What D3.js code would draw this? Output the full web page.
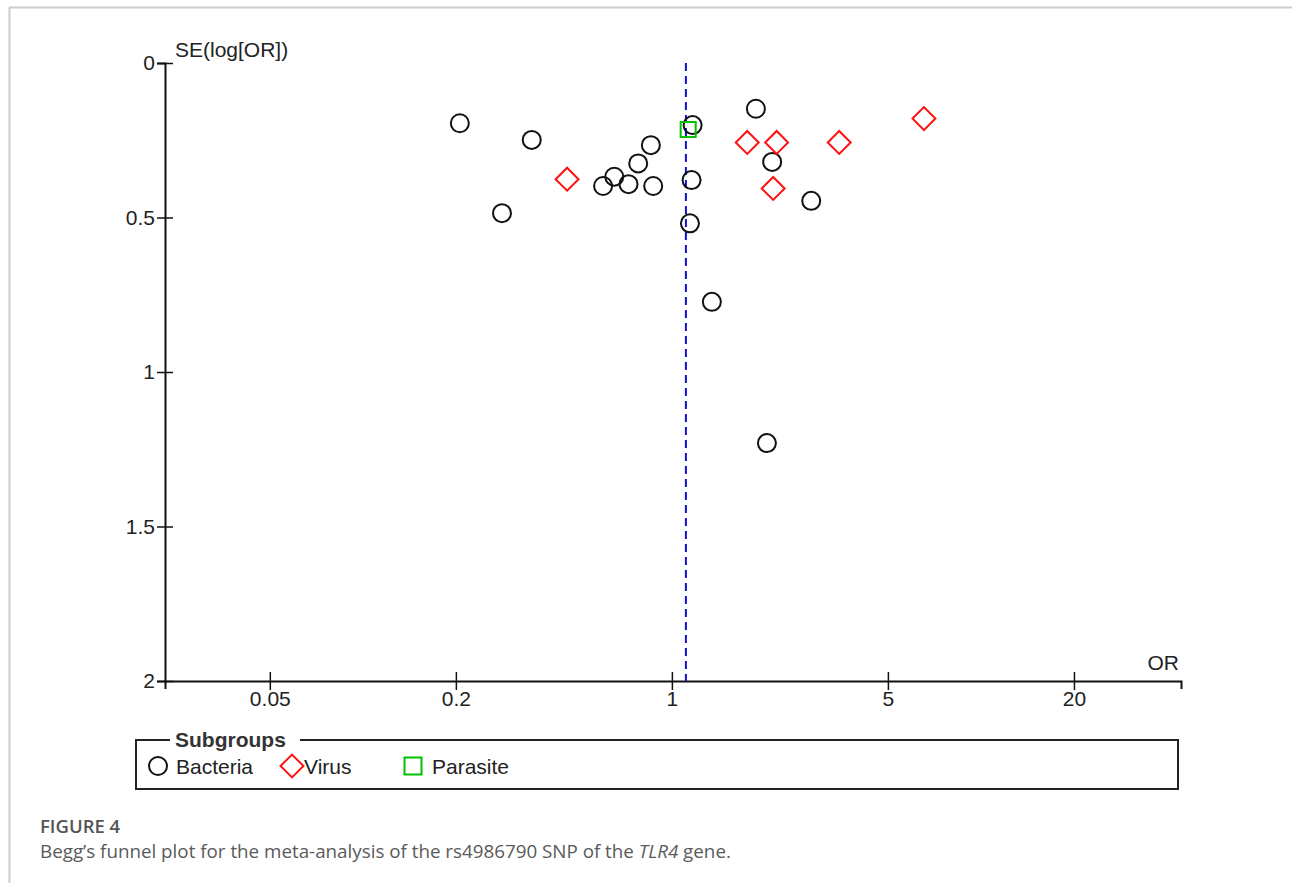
<!DOCTYPE html>
<html>
<head>
<meta charset="utf-8">
<script src="https://cdn.jsdelivr.net/npm/d3@7"></script>
<style>
    body { margin: 0; background: #fff; }
    svg text { font-family: "Liberation Sans", Arial, sans-serif; }
</style>
</head>
<body>
<div id="funnel_plot"></div>
<script>
// Study estimates: odds ratio and SE(log[OR])
const bacteriaOR = [0.206, 0.352, 0.282, 0.599, 0.651, 0.724, 0.778, 0.855, 0.870,
    1.167, 1.158, 1.144, 1.347, 1.870, 2.111, 2.824, 2.030];
const bacteriaSE = [0.195, 0.249, 0.486, 0.398, 0.368, 0.392, 0.325, 0.266, 0.398,
    0.201, 0.379, 0.519, 0.773, 0.148, 0.320, 0.446, 1.230];
const virusOR = [0.458, 1.753, 2.182, 3.479, 6.540, 2.127];
const virusSE = [0.376, 0.257, 0.257, 0.257, 0.180, 0.406];
const parasiteOR = [1.129];
const parasiteSE = [0.215];
const pooledOR = 1.11;

const xTicks = [0.05, 0.2, 1, 5, 20];
const yTicks = [0, 0.5, 1, 1.5, 2];
const subgroups = ["Bacteria", "Virus", "Parasite"];

const graphDimensions = {
    width: 1292,
    height: 883,
    plot: { left: 165, right: 1181, top: 63, bottom: 681 },
};
const { width, height, plot } = graphDimensions;

const svg = d3
    .select("#funnel_plot")
    .append("svg")
    .attr("width", width)
    .attr("height", height);

// page frame
svg.append("line").attr("x1", 9).attr("x2", width).attr("y1", 7.5).attr("y2", 7.5)
    .attr("stroke", "#cccccc").attr("stroke-width", 2);
svg.append("line").attr("x1", 9.5).attr("x2", 9.5).attr("y1", 7).attr("y2", height)
    .attr("stroke", "#cccccc").attr("stroke-width", 2);

const xScale = d3.scaleLog().domain([0.0229, 44.4]).range([plot.left, plot.right]);
const yScale = d3.scaleLinear().domain([0, 2]).range([plot.top, plot.bottom]);

drawAxes(svg, xScale, yScale);

// pooled estimate
svg.append("line")
    .attr("x1", xScale(pooledOR)).attr("x2", xScale(pooledOR))
    .attr("y1", yScale(0)).attr("y2", yScale(2))
    .attr("stroke", "#1010d0")
    .attr("stroke-width", 2)
    .attr("stroke-dasharray", "8,5");

const markers = {
    Bacteria: (g) => g.append("circle").attr("r", 9).attr("fill", "none")
        .attr("stroke", "#111").attr("stroke-width", 2),
    Virus: (g) => g.append("path").attr("d", d3.symbol(d3.symbolSquare, 262)())
        .attr("transform", "rotate(45)").attr("fill", "none")
        .attr("stroke", "#ff1010").attr("stroke-width", 2),
    Parasite: (g) => g.append("path").attr("d", d3.symbol(d3.symbolSquare, 225)())
        .attr("fill", "none").attr("stroke", "#00c000").attr("stroke-width", 2),
};

const series = [
    { key: "Bacteria", or: bacteriaOR, se: bacteriaSE },
    { key: "Virus", or: virusOR, se: virusSE },
    { key: "Parasite", or: parasiteOR, se: parasiteSE },
];

series.forEach((s) => {
    const pts = s.or.map((v, i) => ({ or: v, se: s.se[i] }));
    svg.append("g")
        .selectAll("g")
        .data(pts)
        .join("g")
        .attr("transform", (d) => `translate(${xScale(d.or)}, ${yScale(d.se)})`)
        .each(function () { markers[s.key](d3.select(this)); });
});

drawLegend(svg);
drawCaption(svg);

function drawAxes(svg, xScale, yScale) {
    const yAxis = svg.append("g")
        .attr("transform", `translate(${plot.left}, 0)`)
        .call(d3.axisLeft(yScale).tickValues(yTicks).tickSizeOuter(0).tickSize(8)
            .tickFormat(d3.format("")));
    yAxis.selectAll(".tick line").attr("x2", 8).attr("x1", -8);
    yAxis.selectAll(".tick text").attr("x", -10);

    const xAxis = svg.append("g")
        .attr("transform", `translate(0, ${plot.bottom})`)
        .call(d3.axisBottom(xScale).tickValues(xTicks).tickSizeOuter(0).tickSize(8)
            .tickFormat(d3.format("")));
    xAxis.selectAll(".tick line").attr("y1", -9).attr("y2", 9);
    xAxis.selectAll(".tick text").attr("y", 10);

    [yAxis, xAxis].forEach((a) => {
        a.select(".domain").attr("stroke", "#111").attr("stroke-width", 2);
        a.selectAll(".tick line").attr("stroke", "#111").attr("stroke-width", 1.5);
        a.selectAll(".tick text").style("font-size", "21px").attr("fill", "#222")
            .style("font-family", "'Liberation Sans', Arial, sans-serif");
    });

    svg.append("text")
        .attr("x", 175).attr("y", 57)
        .style("font-size", "21px").attr("fill", "#222")
        .text("SE(log[OR])");
    svg.append("text")
        .attr("x", 1179).attr("y", 670)
        .attr("text-anchor", "end")
        .style("font-size", "21px").attr("fill", "#222")
        .text("OR");
}

function drawLegend(svg) {
    const box = { x: 136, y: 740, w: 1042, h: 49 };
    const g = svg.append("g");
    g.append("path")
        .attr("d", `M${box.x + 34},${box.y}H${box.x}V${box.y + box.h}H${box.x + box.w}V${box.y}H${box.x + 164}`)
        .attr("fill", "none").attr("stroke", "#222").attr("stroke-width", 2);
    g.append("text")
        .attr("x", box.x + 39).attr("y", box.y + 7)
        .style("font-size", "21px").style("font-weight", "bold").attr("fill", "#333")
        .text("Subgroups");

    const itemX = [158, 292, 413];
    const labelX = [176, 304, 432];
    subgroups.forEach((key, i) => {
        const item = g.append("g").attr("transform", `translate(${itemX[i]}, 766)`);
        if (key === "Parasite") {
            item.append("path").attr("d", d3.symbol(d3.symbolSquare, 289)())
                .attr("fill", "none").attr("stroke", "#00c000").attr("stroke-width", 2);
        } else {
            markers[key](item);
        }
        g.append("text")
            .attr("x", labelX[i]).attr("y", 774)
            .style("font-size", "21px").attr("fill", "#222")
            .text(key);
    });
}

function drawCaption(svg) {
    svg.append("text")
        .attr("x", 40).attr("y", 833)
        .style("font-family", "'Open Sans', sans-serif")
        .style("font-size", "18.5px").style("font-weight", 600).attr("fill", "#555")
        .text("FIGURE 4");
    const cap = svg.append("text")
        .attr("x", 40).attr("y", 858)
        .style("font-family", "'Open Sans', sans-serif")
        .style("font-size", "18.8px").attr("fill", "#5a5a5a");
    cap.append("tspan").text("Begg\u2019s funnel plot for the meta-analysis of the rs4986790 SNP of the ");
    cap.append("tspan").style("font-style", "italic").text("TLR4");
    cap.append("tspan").text(" gene.");
}
</script>
</body>
</html>
